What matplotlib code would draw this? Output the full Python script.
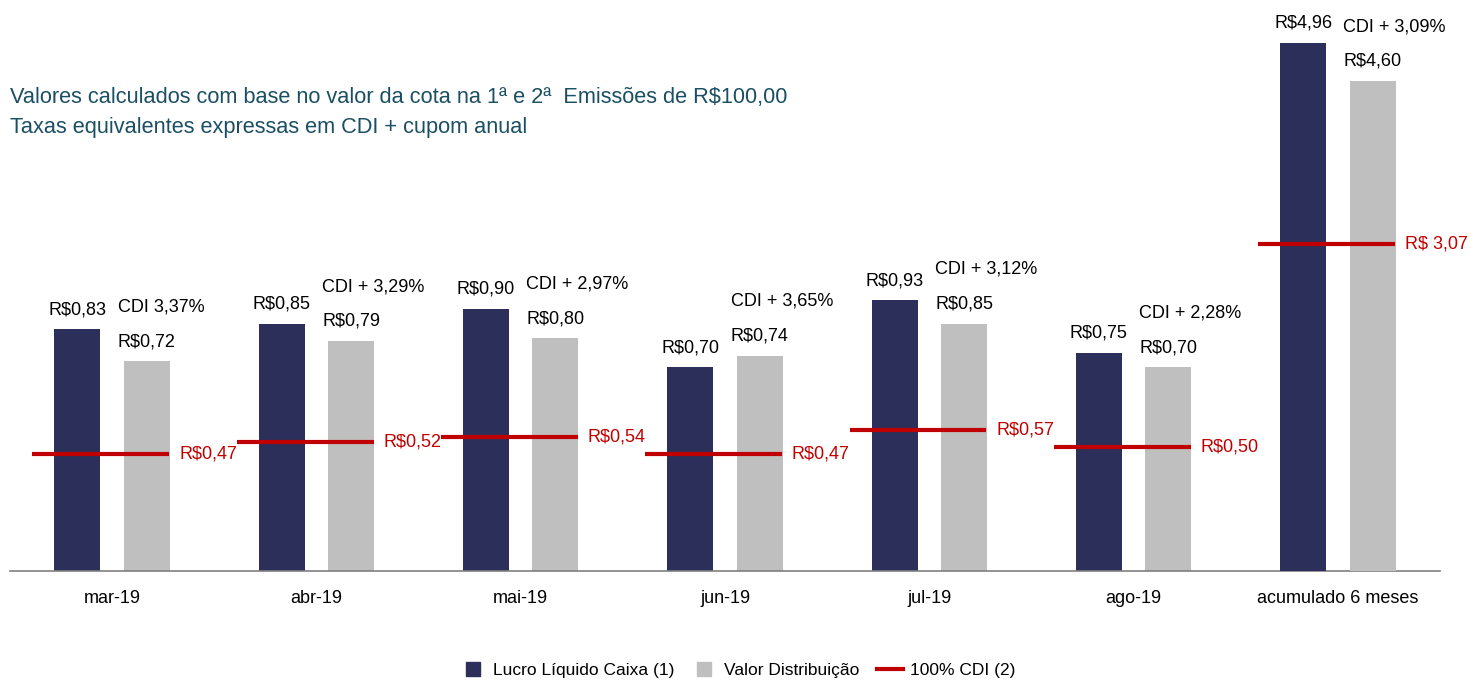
import matplotlib
matplotlib.use('Agg')
import matplotlib.pyplot as plt
from matplotlib.lines import Line2D
import numpy as np

plt.rcParams['font.family'] = ['Liberation Sans', 'DejaVu Sans']

# data
categories = ['mar-19', 'abr-19', 'mai-19', 'jun-19', 'jul-19', 'ago-19', 'acumulado 6 meses']
lucro = [0.83, 0.85, 0.90, 0.70, 0.93, 0.75, 4.96]
distribuicao = [0.72, 0.79, 0.80, 0.74, 0.85, 0.70, 4.60]
cdi = [0.47, 0.52, 0.54, 0.47, 0.57, 0.50, 3.07]
cdi_spread = ['CDI 3,37%', 'CDI + 3,29%', 'CDI + 2,97%', 'CDI + 3,65%',
              'CDI + 3,12%', 'CDI + 2,28%', 'CDI + 3,09%']
cdi_labels = ['R$0,47', 'R$0,52', 'R$0,54', 'R$0,47', 'R$0,57', 'R$0,50', 'R$ 3,07']

navy = '#2b2f5a'
grey = '#bfbfbf'
red = '#c00000'
teal = '#1b4f63'

fig = plt.figure(figsize=(14.75, 6.81), dpi=100)
rect = [10 / 1475, 110 / 681, 1430 / 1475, 561 / 681]
ax = fig.add_axes(rect)          # monthly bars
ax_acc = ax.twinx()              # accumulated column
ax_cdi = ax.twinx()              # monthly CDI lines

ax.set_ylim(0, 561 / 291)
ax_acc.set_ylim(0, 561 / 106.5)
ax_cdi.set_ylim(0, 561 / 248)
ax.set_xlim(-0.5, 6.5)

x = np.arange(len(categories))
w = 0.225
off = 0.17
n = len(categories) - 1

for i in range(len(categories)):
    bax = ax if i < n else ax_acc
    lax = ax_cdi if i < n else ax_acc
    bax.bar(x[i] - off, lucro[i], w, color=navy)
    bax.bar(x[i] + off, distribuicao[i], w, color=grey)
    vl = 'R$' + f'{lucro[i]:.2f}'.replace('.', ',')
    vd = 'R$' + f'{distribuicao[i]:.2f}'.replace('.', ',')
    bax.annotate(vl, (x[i] - off, lucro[i]), xytext=(0, 8), textcoords='offset points',
                 ha='center', va='bottom', fontsize=13)
    bax.annotate(vd, (x[i] + off, distribuicao[i]), xytext=(0, 8), textcoords='offset points',
                 ha='center', va='bottom', fontsize=13)
    bax.annotate(cdi_spread[i], (x[i] + off - w / 2 - 0.03, distribuicao[i]), xytext=(0, 33),
                 textcoords='offset points', ha='left', va='bottom', fontsize=13)
    x0, x1 = x[i] - 0.39, x[i] + 0.28
    lax.plot([x0, x1], [cdi[i], cdi[i]], color=red, lw=3, solid_capstyle='butt')
    lax.annotate(cdi_labels[i], (x1, cdi[i]), xytext=(7, 0), textcoords='offset points',
                 ha='left', va='center', fontsize=13, color=red)

for a in (ax, ax_acc, ax_cdi):
    for s in ('top', 'right', 'left'):
        a.spines[s].set_visible(False)
    a.set_yticks([])
ax_acc.spines['bottom'].set_visible(False)
ax_cdi.spines['bottom'].set_visible(False)
ax.spines['bottom'].set_color('#808080')
ax.spines['bottom'].set_linewidth(1.2)

ax.set_xticks(x)
ax.set_xticklabels(categories, fontsize=13)
ax.tick_params(axis='x', length=0, pad=14)

fig.text(10 / 1475, 1 - 97 / 681, 'Valores calculados com base no valor da cota na 1ª e 2ª  Emissões de R$100,00',
         fontsize=15.7, color=teal, ha='left', va='center')
fig.text(10 / 1475, 1 - 128 / 681, 'Taxas equivalentes expressas em CDI + cupom anual',
         fontsize=15.7, color=teal, ha='left', va='center')

handles = [
    Line2D([], [], marker='s', ls='', color=navy, markersize=10),
    Line2D([], [], marker='s', ls='', color=grey, markersize=10),
    Line2D([], [], color=red, lw=3),
]
fig.legend(handles, ['Lucro Líquido Caixa (1)', 'Valor Distribuição', '100% CDI (2)'],
           loc='center', bbox_to_anchor=(0.5, 11 / 681), ncol=3, frameon=False,
           fontsize=12.5, handlelength=1.5, handletextpad=0.4, columnspacing=1.0)

fig.savefig('out.png', dpi=100)
